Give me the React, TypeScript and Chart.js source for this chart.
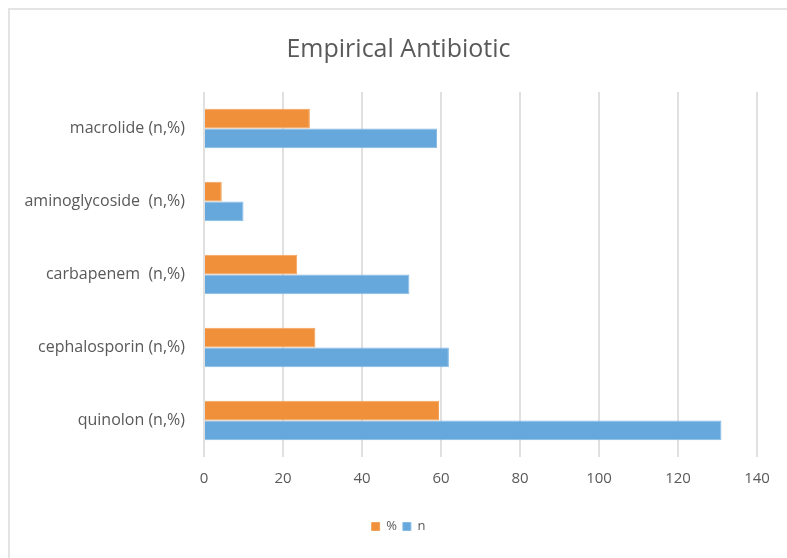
import React, { useEffect, useRef } from "react";
import { Chart, registerables } from "chart.js";

Chart.register(...registerables);

const categories = [
  "quinolon (n,%)",
  "cephalosporin (n,%)",
  "carbapenem  (n,%)",
  "aminoglycoside  (n,%)",
  "macrolide (n,%)",
];
const percentValues = [59.5, 28.2, 23.6, 4.5, 26.8];
const nValues = [131, 62, 52, 10, 59];
const seriesNames = ["%", "n"];
const xMin = 0;
const xMax = 140;
const xStep = 20;

const FONT = "'Open Sans', 'DejaVu Sans', sans-serif";
const TEXT = "#595959";

export default function App() {
  const ref = useRef<HTMLCanvasElement | null>(null);

  useEffect(() => {
    if (!ref.current) return;
    const chart = new Chart(ref.current, {
      type: "bar",
      data: {
        labels: categories,
        datasets: [
          {
            label: seriesNames[0],
            data: percentValues,
            backgroundColor: "#F0903A",
            borderColor: "#F3A35C",
            borderWidth: 1,
            barPercentage: 1,
            categoryPercentage: 0.54,
          },
          {
            label: seriesNames[1],
            data: nValues,
            backgroundColor: "#66A8DC",
            borderColor: "#86BBE5",
            borderWidth: 1,
            barPercentage: 1,
            categoryPercentage: 0.54,
          },
        ],
      },
      options: {
        indexAxis: "y",
        animation: false,
        responsive: false,
        layout: { padding: { left: 0, right: 0, top: 0, bottom: 15 } },
        scales: {
          x: {
            min: xMin,
            max: xMax,
            afterFit: (scale: any) => {
              scale.height += 13;
              scale.paddingRight = 30;
            },
            ticks: {
              stepSize: xStep,
              color: TEXT,
              font: { family: FONT, size: 15 },
              padding: 13,
            },
            grid: { color: "#e0e0e0", lineWidth: 2, drawTicks: false },
            border: { display: false },
          },
          y: {
            reverse: true,
            afterFit: (scale: any) => {
              scale.width = 194;
            },
            ticks: {
              color: TEXT,
              font: { family: FONT, size: 16 },
              padding: 19,
            },
            grid: { display: false, drawTicks: false },
            border: { display: false },
          },
        },
        plugins: {
          title: {
            display: true,
            text: "Empirical Antibiotic",
            color: TEXT,
            font: { family: FONT, size: 25, weight: "normal" },
            padding: { top: 25, bottom: 27 },
          },
          legend: {
            position: "bottom",
            labels: {
              color: TEXT,
              font: { family: FONT, size: 13 },
              boxWidth: 8,
              boxHeight: 8,
              padding: 6,
            },
          },
          tooltip: { enabled: false },
        },
      },
    });
    return () => chart.destroy();
  }, []);

  return (
    <div
      style={{
        position: "fixed",
        left: 8,
        top: 8,
        width: 779,
        height: 550,
        borderLeft: "2px solid #e4e4e4",
        borderTop: "2px solid #e4e4e4",
        boxSizing: "border-box",
        background: "#fff",
      }}
    >
      <canvas ref={ref} width={777} height={548} style={{ display: "block" }} />
    </div>
  );
}
